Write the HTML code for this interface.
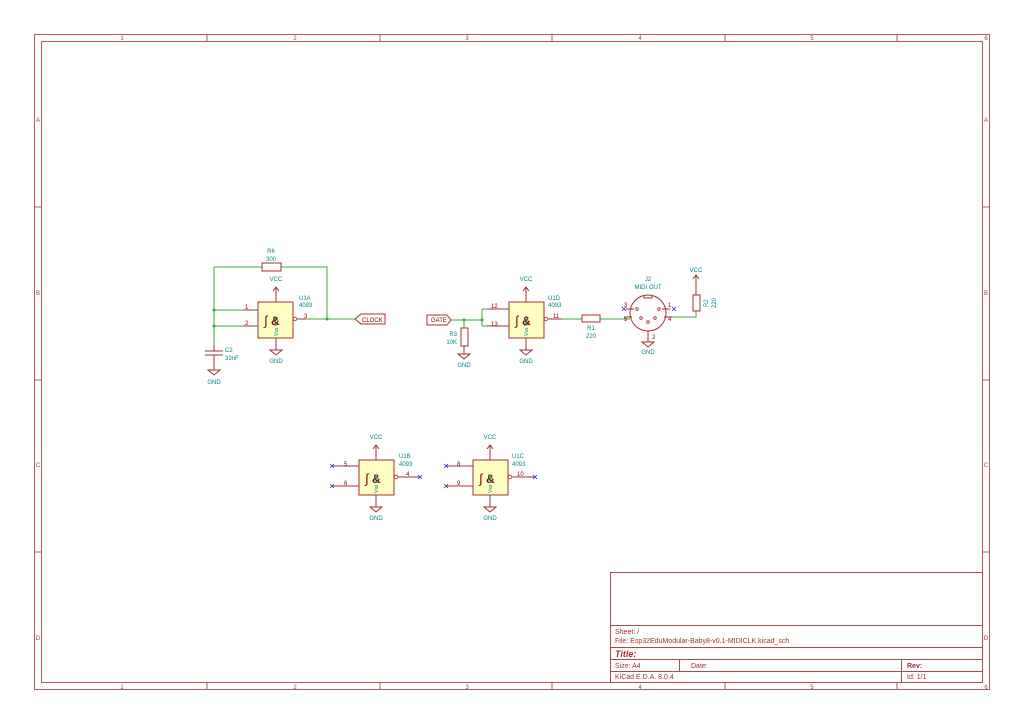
<!DOCTYPE html>
<html><head><meta charset="utf-8"><style>
html,body{margin:0;padding:0;background:#fff;}
svg{display:block;}
text{font-family:"Liberation Sans",sans-serif;}
.t{fill:#008484;font-size:6px;}
.r{fill:#840000;font-size:6px;}
.w{stroke:#3aa83a;stroke-width:1;fill:none;}
.p{stroke:#a03030;stroke-width:1;fill:none;}
.s{stroke:#a03030;stroke-width:1;fill:#ffffc2;}
.x{stroke:#3030c0;stroke-width:0.8;}
.g1{fill:#840000;font-size:13px;font-style:italic;}
.g2{fill:#840000;font-size:12px;font-weight:bold;}
</style></head><body>
<svg width="1024" height="724" viewBox="0 0 1024 724" xmlns="http://www.w3.org/2000/svg">
<rect width="1024" height="724" fill="#fff"/>
<g stroke="#b85858" fill="none" stroke-width="1">
<rect x="34.5" y="34.5" width="955" height="655"/>
<rect x="41.5" y="41.5" width="941" height="641"/>
<path d="M207 34v7M380 34v7M552 34v7M725 34v7M897 34v7M207 682v7M380 682v7M552 682v7M725 682v7M897 682v7M34 207h7M34 380h7M34 552h7M983 207h7M983 380h7M983 552h7"/>
</g>
<g font-size="6" text-anchor="middle" style="fill:#a04040">
<text x="122" y="40">1</text><text x="295" y="40">2</text><text x="467" y="40">3</text><text x="640" y="40">4</text><text x="812" y="40">5</text><text x="986" y="40">6</text>
<text x="122" y="689">1</text><text x="295" y="689">2</text><text x="467" y="689">3</text><text x="640" y="689">4</text><text x="812" y="689">5</text><text x="986" y="689">6</text>
<text x="38" y="122">A</text><text x="38" y="295">B</text><text x="38" y="467">C</text><text x="38" y="640">D</text>
<text x="986" y="122">A</text><text x="986" y="295">B</text><text x="986" y="467">C</text><text x="986" y="640">D</text>
</g>
<g stroke="#b04848" fill="none" stroke-width="1">
<rect x="610.5" y="572.5" width="372" height="110"/>
<path d="M610 625.5h373M610 647.5h373M610 659.5h373M610 671.5h373M679.5 659v12M901.5 659v23"/>
</g>
<g style="fill:#a03030" font-size="7">
<text x="615" y="634">Sheet: /</text>
<text x="615" y="643">File: Esp32EduModular-Baby8-v0.1-MIDICLK.kicad_sch</text>
<text x="615" y="657" style="font-size:9px;font-weight:bold;font-style:italic">Title:</text>
<text x="615" y="668">Size: A4</text>
<text x="691" y="668">Date:</text>
<text x="907" y="668" font-weight="bold">Rev:</text>
<text x="615" y="679">KiCad E.D.A. 8.0.4</text>
<text x="907" y="679">Id: 1/1</text>
</g>

<!-- U1A -->
<path class="w" d="M214 267H262M281 267H327V319M214 267V345M214 310H243M214 326H243M306 319H355"/>
<rect class="p" x="262" y="263" width="19" height="8"/>
<text class="t" x="271" y="253" text-anchor="middle">R6</text>
<text class="t" x="271" y="261" text-anchor="middle">300</text>
<circle cx="214" cy="310" r="1.5" fill="#3aa83a"/><circle cx="214" cy="326" r="1.5" fill="#3aa83a"/><circle cx="327" cy="319" r="1.5" fill="#3aa83a"/>
<path class="p" d="M214 345v6M205 351h18M205 355h18M214 355v15M208 370h12l-6 5z"/>
<text class="t" x="225" y="352">C2</text><text class="t" x="225" y="360">33nF</text>
<text class="t" x="214" y="384" text-anchor="middle">GND</text>
<path class="p" d="M243 310H258M243 326H258M296 319H306M276 302V288M273 291l3-4 3 4M276 338V350M270 350h12l-6 5z"/>
<rect class="s" x="258" y="302" width="35" height="36"/>
<circle cx="295" cy="319" r="1.8" fill="#fff" stroke="#a03030" stroke-width="0.8"/>
<text class="r" x="245" y="309">1</text><text class="r" x="245" y="325">2</text><text class="r" x="304" y="318">3</text>
<text class="g1" x="264" y="325">∫</text><text class="g2" x="271" y="325">&amp;</text>
<text class="t" x="276" y="281" text-anchor="middle">VCC</text><text class="t" x="276" y="363" text-anchor="middle">GND</text>
<text class="t" x="299" y="300">U1A</text><text class="t" x="299" y="307">4093</text>
<text class="t" style="font-size:5px" transform="translate(278,336) rotate(-90)">Vss Vdd</text>
<path class="p" d="M355 319l6-5h24v10h-24z"/>
<text class="r" x="362" y="322">CLOCK</text>

<!-- U1D -->
<path class="p" d="M427 315h20l4 5-4 5h-20z"/>
<text class="r" x="431" y="322">GATE</text>
<path class="w" d="M451 320H482M482 309V326M482 309H487M482 326H487M464 320V328M562 319H582M600 319H630M666 317H696V311"/>
<circle cx="464" cy="320" r="1.5" fill="#3aa83a"/><circle cx="482" cy="320" r="1.5" fill="#3aa83a"/>
<rect class="p" x="461" y="328" width="7" height="18"/>
<path class="p" d="M464 346v8M458 354h12l-6 5z"/>
<text class="t" x="457" y="336" text-anchor="end">R3</text><text class="t" x="457" y="344" text-anchor="end">10K</text>
<text class="t" x="464" y="367" text-anchor="middle">GND</text>
<path class="p" d="M487 309H509M487 326H509M547 319H562M526 302V288M523 291l3-4 3 4M526 338V350M520 350h12l-6 5z"/>
<rect class="s" x="509" y="302" width="35" height="36"/>
<circle cx="546" cy="319" r="1.8" fill="#fff" stroke="#a03030" stroke-width="0.8"/>
<text class="r" x="491" y="308">12</text><text class="r" x="491" y="326">13</text><text class="r" x="553" y="318">11</text>
<text class="g1" x="515" y="325">∫</text><text class="g2" x="522" y="325">&amp;</text>
<text class="t" x="526" y="281" text-anchor="middle">VCC</text><text class="t" x="526" y="363" text-anchor="middle">GND</text>
<text class="t" x="548" y="300">U1D</text><text class="t" x="548" y="307">4093</text>
<text class="t" style="font-size:5px" transform="translate(528,336) rotate(-90)">Vss Vdd</text>
<rect class="p" x="582" y="315" width="18" height="7"/>
<text class="t" x="591" y="330" text-anchor="middle">R1</text><text class="t" x="591" y="338" text-anchor="middle">220</text>
<circle cx="648" cy="313" r="18" fill="none" stroke="#a03030"/>
<path class="p" d="M644 295v3h8v-3M626 309h8M662 309h8M624 317h8M664 317h8M648 331v11M642 342h12l-6 5z"/>
<g fill="none" stroke="#a03030" stroke-width="0.8">
<circle cx="637" cy="309" r="1.3"/><circle cx="659" cy="309" r="1.3"/><circle cx="641" cy="318" r="1.3"/><circle cx="655" cy="318" r="1.3"/><circle cx="648" cy="322" r="1.3"/></g>
<path class="x" d="M622 307l4 4M626 307l-4 4M672 307l4 4M676 307l-4 4"/>
<text class="r" x="624" y="307">3</text><text class="r" x="624" y="321">5</text><text class="r" x="668" y="307">1</text><text class="r" x="668" y="321">4</text>
<text class="r" x="652" y="339">2</text>
<text class="t" x="648" y="281" text-anchor="middle">J2</text><text class="t" x="648" y="289" text-anchor="middle">MIDI OUT</text>
<text class="t" x="648" y="354" text-anchor="middle">GND</text>
<rect class="p" x="693" y="295" width="7" height="16"/>
<path class="p" d="M696 295V276M693 279l3-4 3 4"/>
<text class="t" x="696" y="272" text-anchor="middle">VCC</text>
<text class="t" transform="translate(708,307) rotate(-90)">R2</text>
<text class="t" transform="translate(716,308) rotate(-90)">220</text>

<!-- U1B -->
<path class="p" d="M332 466H359M332 486H359M397 477H420M376 460V446M373 449l3-4 3 4M376 495V507M370 507h12l-6 5z"/>
<rect class="s" x="359" y="460" width="35" height="35"/>
<circle cx="396" cy="477" r="1.8" fill="#fff" stroke="#a03030" stroke-width="0.8"/>
<path class="x" d="M330 464l4 4M334 464l-4 4M330 484l4 4M334 484l-4 4M418 475l4 4M422 475l-4 4"/>
<text class="r" x="344" y="466">5</text><text class="r" x="344" y="485">6</text><text class="r" x="406" y="476">4</text>
<text class="g1" x="365" y="483">∫</text><text class="g2" x="372" y="483">&amp;</text>
<text class="t" x="376" y="439" text-anchor="middle">VCC</text><text class="t" x="376" y="520" text-anchor="middle">GND</text>
<text class="t" x="399" y="458">U1B</text><text class="t" x="399" y="466">4093</text>
<text class="t" style="font-size:5px" transform="translate(378,493) rotate(-90)">Vss Vdd</text>

<!-- U1C -->
<path class="p" d="M446 466H473M446 486H473M511 477H535M490 460V446M487 449l3-4 3 4M490 495V507M484 507h12l-6 5z"/>
<rect class="s" x="473" y="460" width="35" height="35"/>
<circle cx="510" cy="477" r="1.8" fill="#fff" stroke="#a03030" stroke-width="0.8"/>
<path class="x" d="M444 464l4 4M448 464l-4 4M444 484l4 4M448 484l-4 4M533 475l4 4M537 475l-4 4"/>
<text class="r" x="457" y="466">8</text><text class="r" x="457" y="485">9</text><text class="r" x="517" y="476">10</text>
<text class="g1" x="479" y="483">∫</text><text class="g2" x="486" y="483">&amp;</text>
<text class="t" x="490" y="439" text-anchor="middle">VCC</text><text class="t" x="490" y="520" text-anchor="middle">GND</text>
<text class="t" x="512" y="458">U1C</text><text class="t" x="512" y="466">4093</text>
<text class="t" style="font-size:5px" transform="translate(492,493) rotate(-90)">Vss Vdd</text>
</svg>
</body></html>
